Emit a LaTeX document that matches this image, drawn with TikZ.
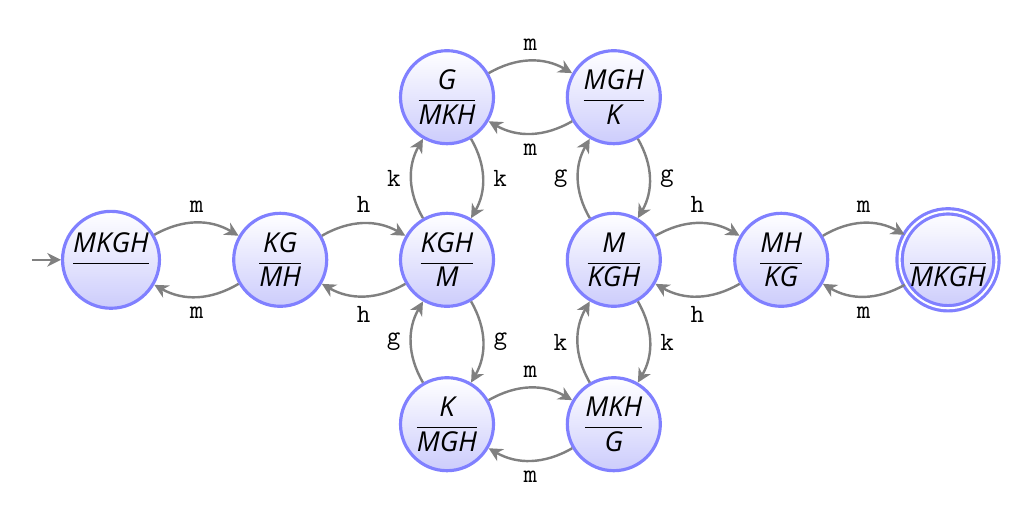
\documentclass[tikz,border=0pt]{standalone}
\usepackage{amsmath}
\usepackage{fontspec}
\newfontfamily\statofont{Open Sans}[ItalicFont={Open Sans Italic}]
\usepackage{tikz}
\definecolor{Viola}{RGB}{128, 128, 255}
\definecolor{Viola20}{RGB}{204, 204, 252}
\definecolor{Grey50}{RGB}{128, 128, 128}
\usetikzlibrary{arrows.meta}
\tikzset{
    stato/.style = {circle, draw=Viola, line width=1.5pt, top color=white, bottom color=Viola20, minimum size=1.55cm, inner sep=0pt},
    finale/.style = {stato, double=white, double distance=1pt, minimum size=1.5cm},
    freccia/.style = {draw=Grey50, line width=1.15pt, arrows = {-Stealth[length=6.5pt, width=6.5pt, inset=2pt]}},
    etichetta/.style = {font=\fontsize{12.5}{15}\selectfont\ttfamily, inner sep=4.5pt}
}
\newcommand{\frazione}[2]{\fontsize{13}{15}\selectfont$\dfrac{\text{\statofont\itshape #1}}{\text{\statofont\itshape #2}}$}

\begin{document}
\begin{tikzpicture}[every edge/.style={freccia}, bend left=30, auto]
    \useasboundingbox (0,0) rectangle (16.883,8.6);

    \node (iniz) at (1.85,4.27)  [stato] {\frazione{MKGH}{\vphantom{M}}};
    \node (KG)   at (4.67,4.27)  [stato] {\frazione{KG}{MH}};
    \node (KGH)  at (7.45,4.27)  [stato] {\frazione{KGH}{M}};
    \node (G)    at (7.45,6.98)  [stato] {\frazione{G}{MKH}};
    \node (K)    at (7.45,1.53)  [stato] {\frazione{K}{MGH}};
    \node (MGH)  at (10.23,6.98) [stato] {\frazione{MGH}{K}};
    \node (MKH)  at (10.23,1.53) [stato] {\frazione{MKH}{G}};
    \node (M)    at (10.23,4.27) [stato] {\frazione{M}{KGH}};
    \node (MH)   at (13.02,4.27) [stato] {\frazione{MH}{KG}};
    \node (fine) at (15.8,4.27)  [finale] {\frazione{\vphantom{M}}{MKGH}};

    \coordinate (start) at (0.53,4.27);
    \draw[freccia] (start) -- (iniz);

    \path (iniz) edge node[etichetta] {m} (KG)
          (KG)   edge node[etichetta] {m} (iniz)
          (KG)   edge node[etichetta] {h} (KGH)
          (KGH)  edge node[etichetta] {h} (KG)
          (KGH)  edge node[etichetta] {k} (G)
          (G)    edge node[etichetta] {k} (KGH)
          (KGH)  edge node[etichetta] {g} (K)
          (K)    edge node[etichetta] {g} (KGH)
          (G)    edge node[etichetta] {m} (MGH)
          (MGH)  edge node[etichetta] {m} (G)
          (K)    edge node[etichetta] {m} (MKH)
          (MKH)  edge node[etichetta] {m} (K)
          (M)    edge node[etichetta] {g} (MGH)
          (MGH)  edge node[etichetta] {g} (M)
          (MKH)  edge node[etichetta] {k} (M)
          (M)    edge node[etichetta] {k} (MKH)
          (M)    edge node[etichetta] {h} (MH)
          (MH)   edge node[etichetta] {h} (M)
          (MH)   edge node[etichetta] {m} (fine)
          (fine) edge node[etichetta] {m} (MH);

\end{tikzpicture}
\end{document}
